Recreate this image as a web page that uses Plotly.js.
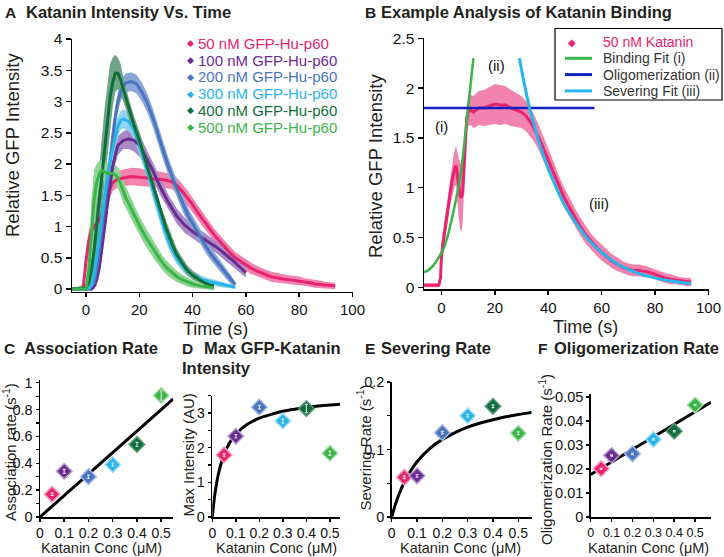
<!DOCTYPE html>
<html><head><meta charset="utf-8">
<script src="https://cdn.plot.ly/plotly-3.0.1.min.js"></script>
<style>html,body{margin:0;padding:0;background:#fff}#chart{width:724px;height:557px}</style>
</head><body><div id="chart"></div>
<script>
// ---------------- Panel A : Katanin intensity vs time ----------------
const seriesNames = ['50 nM GFP-Hu-p60','100 nM GFP-Hu-p60','200 nM GFP-Hu-p60','300 nM GFP-Hu-p60','400 nM GFP-Hu-p60','500 nM GFP-Hu-p60'];
const t50 = [-5,-3,-1,0,1,2,3,4,5,6,7,8,9,10,12,14,17,20,23,26,29,32,34,36,38,40,42,44,46,48,50,52,54,56,58,60,62,64,66,68,70,72,74,76,78,80,82,84,86,88,90,92,93.5];
const v50 = [0,0,0.03,0.45,0.75,0.92,1.0,1.05,1.1,1.2,1.32,1.47,1.6,1.7,1.76,1.78,1.8,1.79,1.77,1.76,1.75,1.72,1.66,1.57,1.46,1.35,1.22,1.1,0.98,0.87,0.77,0.67,0.58,0.5,0.44,0.38,0.33,0.29,0.25,0.22,0.19,0.17,0.16,0.15,0.14,0.13,0.11,0.1,0.08,0.07,0.06,0.05,0.05];
const e50 = [0.02,0.02,0.04,0.2,0.18,0.16,0.15,0.15,0.15,0.15,0.15,0.15,0.14,0.13,0.13,0.13,0.14,0.14,0.13,0.13,0.12,0.12,0.12,0.12,0.12,0.11,0.11,0.11,0.1,0.1,0.1,0.1,0.1,0.09,0.09,0.09,0.09,0.08,0.08,0.08,0.08,0.08,0.07,0.07,0.07,0.07,0.06,0.06,0.06,0.06,0.05,0.05,0.05];

const t100 = [-5,0,2,3,4,5,6,7,8,9,10,11,12,14,16,18,20,22,25,28,31,34,37,40,43,46,49,52,55,58,60];
const v100 = [0,0,0,0.05,0.15,0.35,0.65,1.0,1.35,1.7,1.95,2.15,2.3,2.38,2.4,2.38,2.3,2.15,1.9,1.62,1.38,1.17,1.02,0.92,0.83,0.75,0.67,0.57,0.46,0.34,0.26];
const e100 = [0.02,0.02,0.03,0.06,0.1,0.14,0.18,0.2,0.2,0.2,0.18,0.16,0.15,0.14,0.16,0.18,0.18,0.15,0.13,0.13,0.12,0.12,0.12,0.11,0.11,0.1,0.1,0.1,0.09,0.09,0.08];

const t200 = [-5,1,3,4,5,6,7,8,9,10,11,12,13,14,15,17,19,21,23,25,27,29,31,33,35,37,39,41,43,45,47,49,51,53,55,56];
const v200 = [0,0,0.1,0.3,0.6,0.95,1.35,1.75,2.1,2.45,2.75,3.0,3.15,3.25,3.3,3.32,3.28,3.15,2.98,2.75,2.48,2.2,1.95,1.72,1.5,1.3,1.12,0.97,0.83,0.68,0.55,0.44,0.33,0.22,0.12,0.07];
const e200 = [0.02,0.02,0.05,0.1,0.15,0.2,0.2,0.2,0.2,0.2,0.18,0.16,0.15,0.15,0.15,0.15,0.15,0.15,0.15,0.15,0.15,0.14,0.14,0.14,0.13,0.13,0.12,0.12,0.11,0.11,0.1,0.1,0.09,0.08,0.07,0.05];

const t300 = [-5,1,2,3,4,5,6,7,8,9,10,11,12,13,14,15,16,17,18,19,20,22,24,26,28,30,32,34,36,38,40,43,46,50,53,56];
const v300 = [0,0,0.05,0.2,0.5,0.85,1.2,1.5,1.8,2.05,2.25,2.45,2.6,2.7,2.72,2.7,2.68,2.62,2.55,2.45,2.32,2.05,1.75,1.45,1.15,0.88,0.66,0.5,0.38,0.29,0.22,0.16,0.12,0.08,0.05,0.03];
const e300 = [0.02,0.02,0.04,0.08,0.12,0.15,0.18,0.2,0.2,0.2,0.2,0.18,0.16,0.15,0.15,0.15,0.15,0.15,0.15,0.15,0.15,0.14,0.14,0.13,0.13,0.12,0.11,0.1,0.09,0.08,0.07,0.06,0.05,0.05,0.04,0.03];

const t400 = [-5,0,1,2,3,4,5,6,7,8,9,10,11,12,13,14,15,16,18,20,22,24,26,28,30,32,34,36,38,40,42,44,46,48];
const v400 = [0,0.02,0.1,0.3,0.6,1.0,1.4,1.85,2.3,2.7,3.05,3.3,3.45,3.45,3.35,3.2,3.05,2.9,2.62,2.38,2.1,1.8,1.5,1.22,0.98,0.75,0.55,0.42,0.3,0.22,0.16,0.11,0.07,0.05];
const e400 = [0.02,0.04,0.1,0.2,0.35,0.5,0.6,0.6,0.6,0.6,0.55,0.4,0.3,0.25,0.25,0.2,0.18,0.16,0.15,0.15,0.14,0.14,0.13,0.12,0.12,0.11,0.1,0.09,0.08,0.07,0.06,0.05,0.05,0.04];

const t500 = [-5,0,1,2,3,4,5,6,7,8,9,10,11,12,13,14,15,16,17,18,20,22,24,26,28,30,32,34,36,38,40,43,46,48];
const v500 = [0,0,0.3,0.9,1.4,1.7,1.85,1.9,1.88,1.85,1.85,1.85,1.83,1.78,1.68,1.55,1.45,1.37,1.28,1.2,1.02,0.86,0.72,0.58,0.46,0.35,0.27,0.2,0.15,0.11,0.08,0.05,0.03,0.02];
const e500 = [0.02,0.03,0.25,0.5,0.5,0.3,0.2,0.15,0.15,0.15,0.15,0.15,0.15,0.17,0.18,0.18,0.18,0.17,0.16,0.16,0.15,0.15,0.14,0.13,0.12,0.11,0.1,0.09,0.08,0.07,0.06,0.05,0.04,0.04];

// ---------------- Panel B : example analysis (50 nM) ----------------
const tB = [-6.5,-5,-3,-1,-0.3,0,0.5,1,1.5,2,2.5,3,3.5,4,4.5,5,5.5,6,6.5,7,7.5,8,8.5,9,9.5,10,11,12,13,14,16,18,20,22,24,26,28,30,32,34,36,38,40,42,44,46,48,50,52,54,56,58,60,62,64,66,68,70,72,74,76,78,80,82,84,86,88,90,92,93.5];
const vB = [0.02,0.02,0.02,0.02,0.1,0.3,0.42,0.52,0.62,0.72,0.82,0.92,1.0,1.07,1.14,1.2,1.22,1.1,1.0,0.92,0.9,0.95,1.2,1.52,1.7,1.76,1.78,1.76,1.78,1.8,1.8,1.82,1.84,1.83,1.83,1.8,1.78,1.76,1.71,1.63,1.53,1.41,1.28,1.15,1.02,0.9,0.8,0.7,0.61,0.53,0.46,0.4,0.35,0.3,0.26,0.23,0.2,0.18,0.17,0.17,0.16,0.15,0.13,0.11,0.09,0.08,0.07,0.06,0.05,0.05];
const eB = [0.02,0.02,0.02,0.02,0.08,0.15,0.12,0.12,0.12,0.12,0.13,0.14,0.15,0.16,0.17,0.18,0.2,0.25,0.3,0.33,0.35,0.3,0.25,0.15,0.14,0.14,0.15,0.16,0.17,0.17,0.18,0.19,0.2,0.2,0.19,0.18,0.17,0.16,0.15,0.14,0.13,0.12,0.11,0.11,0.1,0.1,0.1,0.09,0.09,0.09,0.08,0.08,0.08,0.07,0.07,0.07,0.06,0.06,0.06,0.06,0.06,0.05,0.05,0.05,0.05,0.05,0.04,0.04,0.04,0.04];
const bindT = [-6.5,-5,-3,-1,1,3,5,7,8,9,10,11,12];
const bindV = [0.15,0.17,0.22,0.3,0.4,0.58,0.82,1.1,1.3,1.55,1.8,2.05,2.3];
const oligT = [-6.5,57.3];
const oligV = [1.8,1.8];
const sevT = [29.2,31,33,35,37,40,43,46,50,55,60,65,70,75,80,85,90,93.5];
const sevV = [2.3,2.05,1.8,1.6,1.42,1.19,1.0,0.83,0.66,0.48,0.35,0.25,0.18,0.13,0.095,0.068,0.048,0.038];
const fitNames = ['50 nM Katanin','Binding Fit (i)','Oligomerization (ii)','Severing Fit (iii)'];

// ---------------- Panels C-F : rates vs concentration ----------------
const conc = [0.05,0.1,0.2,0.3,0.4,0.5];
const assocRate = [0.17,0.34,0.30,0.39,0.54,0.905];
const assocErr = [0.01,0.015,0.012,0.012,0.015,0.035];
const maxInt = [1.79,2.33,3.17,2.77,3.13,1.84];
const maxErr = [0.04,0.05,0.05,0.06,0.12,0.06];
const sevRate = [0.059,0.061,0.125,0.150,0.164,0.124];
const sevErr = [0.002,0.002,0.002,0.002,0.002,0.002];
const oligRate = [0.0201,0.0256,0.0263,0.0323,0.0357,0.0466];
const oligErr = [0.0003,0.0003,0.0003,0.0003,0.0003,0.0003];
const fitCx = [0,0.55], fitCy = [0,0.88];
const fitDx = [0,0.005,0.01,0.02,0.03,0.05,0.075,0.1,0.15,0.2,0.25,0.3,0.35,0.4,0.45,0.5,0.543];
const fitDy = [0,0.33,0.61,1.04,1.36,1.80,2.16,2.39,2.68,2.85,2.96,3.05,3.11,3.16,3.20,3.23,3.25];
const fitEx = [0,0.01,0.02,0.03,0.05,0.075,0.1,0.15,0.2,0.25,0.3,0.35,0.4,0.45,0.5,0.553];
const fitEy = [0,0.0132,0.0247,0.0349,0.0519,0.0686,0.0818,0.1013,0.1150,0.1251,0.1330,0.1392,0.1442,0.1484,0.1519,0.1550];
const fitFx = [0,0.576], fitFy = [0.0177,0.0478];
const timeTicks = [0,20,40,60,80,100];

// ---------------- styling ----------------
const FONT = 'Liberation Sans, Arial, Helvetica, sans-serif';
const mainCol = ['#e8246f','#6b2c91','#4a74be','#28b5ea','#0f6e3b','#3bb54a'];
const bandCol = ['#f283ae','#a88bc6','#8aa5d8','#8ed4f2','#6fa487','#90d494'];
const edgeCol = ['#f59ac0','#b79dd2','#a2b8e2','#a7ddf5','#5e9a78','#a6dca8'];
const W = 724, H = 557;
const X = p => p / W, Y = p => 1 - p / H;

function band(t, v, e, color, xa, ya) {
  const up = v.map((d, i) => d + e[i]);
  const lo = v.map((d, i) => d - e[i]);
  return {x: t.concat(t.slice().reverse()), y: up.concat(lo.slice().reverse()),
    xaxis: xa, yaxis: ya, mode: 'lines', fill: 'toself', fillcolor: color,
    line: {width: 0, color: color}, hoverinfo: 'skip'};
}
function line(t, v, color, w, xa, ya, shape) {
  return {x: t, y: v, xaxis: xa, yaxis: ya, mode: 'lines', line: {color: color, width: w, shape: shape || 'linear'}};
}

const traces = [];
const As = [[t50,v50,e50],[t100,v100,e100],[t200,v200,e200],[t300,v300,e300],[t400,v400,e400],[t500,v500,e500]];
As.forEach((s, i) => traces.push(band(s[0], s[1], s[2], bandCol[i], 'x', 'y')));
As.forEach((s, i) => traces.push(line(s[0], s[1], mainCol[i], 3, 'x', 'y')));

traces.push(band(tB, vB, eB, '#f283ae', 'x2', 'y2'));
traces.push(line(tB, vB, '#e8246f', 3, 'x2', 'y2'));
traces.push(line(bindT, bindV, '#3bb54a', 2.5, 'x2', 'y2', 'spline'));
traces.push(line(oligT, oligV, '#1020c4', 2.5, 'x2', 'y2'));
traces.push(line(sevT, sevV, '#22b8ec', 3, 'x2', 'y2', 'spline'));

function scatterPanel(yv, err, fx, fy, xa, ya, fitShape) {
  traces.push(line(fx, fy, '#000', 3, xa, ya, fitShape));
  traces.push({x: conc, y: yv, xaxis: xa, yaxis: ya, mode: 'markers',
    marker: {symbol: 'diamond', size: 12, color: mainCol, line: {color: edgeCol, width: 1.5}}});
  traces.push({x: conc, y: yv, xaxis: xa, yaxis: ya, mode: 'markers', marker: {opacity: 0, size: 2},
    error_y: {type: 'data', array: err, visible: true, color: 'rgba(235,235,235,0.85)', thickness: 1.2, width: 1.5}});
}
scatterPanel(assocRate, assocErr, fitCx, fitCy, 'x3', 'y3');
scatterPanel(maxInt, maxErr, fitDx, fitDy, 'x4', 'y4', 'spline');
scatterPanel(sevRate, sevErr, fitEx, fitEy, 'x5', 'y5', 'spline');
scatterPanel(oligRate, oligErr, fitFx, fitFy, 'x6', 'y6');

const axBase = {showline: true, linecolor: '#000', linewidth: 1.5, ticks: 'outside', ticklen: 5,
  tickwidth: 1.5, tickcolor: '#000', showgrid: false, zeroline: false, tickangle: 0,
  tickfont: {family: FONT, size: 15.5, color: '#111'}, fixedrange: true};
const axTime = Object.assign({}, axBase, {ticklen: 4, tickfont: {family: FONT, size: 15, color: '#111'}});
const axSmall = Object.assign({}, axBase, {ticklen: 3, tickfont: {family: FONT, size: 14.5, color: '#111'}});
const axSmallX = Object.assign({}, axSmall, {tickfont: {family: FONT, size: 14, color: '#111'}});
const minor = d => ({dtick: d, ticks: 'outside', ticklen: 3, tickwidth: 1.2, tickcolor: '#000', showgrid: false});
const BOT = 517;

const layout = {
  width: W, height: H, margin: {l: 0, r: 0, t: 0, b: 0}, paper_bgcolor: '#fff', plot_bgcolor: 'rgba(0,0,0,0)',
  showlegend: false, font: {family: FONT, color: '#111'},
  xaxis: Object.assign({}, axTime, {domain: [X(72), X(352.5)], range: [-5.25, 100], tickvals: timeTicks, anchor: 'y'}),
  yaxis: Object.assign({}, axBase, {domain: [Y(291.5), Y(39)], range: [-0.04, 4], dtick: 0.5, anchor: 'x'}),
  xaxis2: Object.assign({}, axTime, {domain: [X(424), X(708.5)], range: [-6.5, 100], tickvals: timeTicks, anchor: 'y2'}),
  yaxis2: Object.assign({}, axBase, {domain: [Y(289.3), Y(38.3)], range: [-0.02, 2.5], dtick: 0.5, anchor: 'x2'}),
  xaxis3: Object.assign({}, axSmallX, {domain: [X(40), X(173.3)], range: [0, 0.55], dtick: 0.1, anchor: 'y3'}),
  yaxis3: Object.assign({}, axSmall, {domain: [Y(BOT), Y(380)], range: [0, 1.02], dtick: 0.2, minor: minor(0.1), anchor: 'x3'}),
  xaxis4: Object.assign({}, axSmallX, {domain: [X(212.3), X(340)], range: [0, 0.543], dtick: 0.1, anchor: 'y4'}),
  yaxis4: Object.assign({}, axSmall, {domain: [Y(BOT), Y(395.7)], range: [0, 3.5], dtick: 1, minor: minor(0.5), anchor: 'x4'}),
  xaxis5: Object.assign({}, axSmallX, {domain: [X(391.7), X(531.7)], range: [0, 0.553], dtick: 0.1, anchor: 'y5'}),
  yaxis5: Object.assign({}, axSmall, {domain: [Y(BOT), Y(382)], range: [0, 0.2], dtick: 0.1, minor: minor(0.05), anchor: 'x5'}),
  xaxis6: Object.assign({}, axSmallX, {domain: [X(590.7), X(711)], range: [0, 0.576], dtick: 0.1, tickfont: {family: FONT, size: 12.5, color: '#111'}, anchor: 'y6'}),
  yaxis6: Object.assign({}, axSmall, {domain: [Y(BOT), Y(394)], range: [0, 0.0512], dtick: 0.01, anchor: 'x6'}),
  annotations: [], shapes: []
};

function ann(text, px, py, size, opts) {
  return Object.assign({text: text, x: X(px), y: Y(py), xref: 'paper', yref: 'paper', showarrow: false,
    xanchor: 'left', yanchor: 'middle', font: {family: FONT, size: size, color: '#231f20'}}, opts || {});
}
const A = layout.annotations;
// panel titles
[['A', 3, 12, 'Katanin Intensity Vs. Time', 24],
 ['B', 363, 12, 'Example Analysis of Katanin Binding', 379],
 ['C', 2, 348, 'Association Rate', 22],
 ['D', 180, 348, 'Max GFP-Katanin', 202],
 ['E', 363, 348, 'Severing Rate', 379],
 ['F', 536, 348, 'Oligomerization Rate', 552]].forEach(r => {
  A.push(ann('<b>' + r[0] + '</b>', r[1], r[2], 15.5));
  A.push(ann('<b>' + r[3] + '</b>', r[4], r[2], 16.5));
});
A.push(ann('<b>Intensity</b>', 180, 368, 16.5));

// axis titles
const ctr = {xanchor: 'center'};
const rot = {xanchor: 'center', textangle: -90};
A.push(ann('Relative GFP Intensity', 13, 145, 18.5, rot));
A.push(ann('Time (s)', 215, 329, 18, ctr));
A.push(ann('Relative GFP Intensity', 376, 166, 18.5, rot));
A.push(ann('Time (s)', 585, 327, 18, ctr));
A.push(ann('Association rate (s<sup>-1</sup>)', 9, 452, 15, rot));
A.push(ann('Max Intensity (AU)', 187.5, 455, 15, rot));
A.push(ann('Severing Rate (s<sup>-1</sup>)', 363.5, 448, 15, rot));
A.push(ann('Oligomerization Rate (s<sup>-1</sup>)', 545, 460, 15, rot));
[101.7, 276, 460.5, 648].forEach(cx => A.push(ann('Katanin Conc (\u03bcM)', cx, 548, 14.5, ctr)));

// legend of panel A
const legY = [43.5, 60.2, 76.9, 93.6, 110.3, 127];
seriesNames.forEach((n, i) => {
  A.push(ann('\u25c6', 190, legY[i], 9, {xanchor: 'center', font: {family: 'DejaVu Sans', size: 9, color: mainCol[i]}}));
  A.push(ann(n, 196, legY[i], 15, {font: {family: FONT, size: 15, color: mainCol[i]}}));
});

// legend of panel B
layout.shapes.push({type: 'rect', xref: 'paper', yref: 'paper', x0: X(555), x1: X(722), y0: Y(28.5), y1: Y(100),
  line: {color: '#000', width: 1.2}, fillcolor: 'rgba(255,255,255,0)'});
const legBY = [42, 58.3, 74.6, 90.9];
const legBCol = ['#e8246f', '#3bb54a', '#1020c4', '#22b8ec'];
A.push(ann('\u25c6', 572, legBY[0], 10, {xanchor: 'center', font: {family: 'DejaVu Sans', size: 10, color: legBCol[0]}}));
[1, 2, 3].forEach(i => layout.shapes.push({type: 'line', xref: 'paper', yref: 'paper', x0: X(565), x1: X(592),
  y0: Y(legBY[i]), y1: Y(legBY[i]), line: {color: legBCol[i], width: 3}}));
fitNames.forEach((n, i) => A.push(ann(n, 601, legBY[i], 14, {font: {family: FONT, size: 14, color: i === 0 ? '#e8246f' : '#333'}})));

// region labels of panel B
[['(i)', 0.1, 1.61], ['(ii)', 20.7, 2.23], ['(iii)', 59.1, 0.84]].forEach(r => A.push({text: r[0], x: r[1], y: r[2],
  xref: 'x2', yref: 'y2', showarrow: false, xanchor: 'center', yanchor: 'middle', font: {family: FONT, size: 15, color: '#111'}}));

Plotly.newPlot('chart', traces, layout, {staticPlot: true, displayModeBar: false});
</script>
</body></html>
